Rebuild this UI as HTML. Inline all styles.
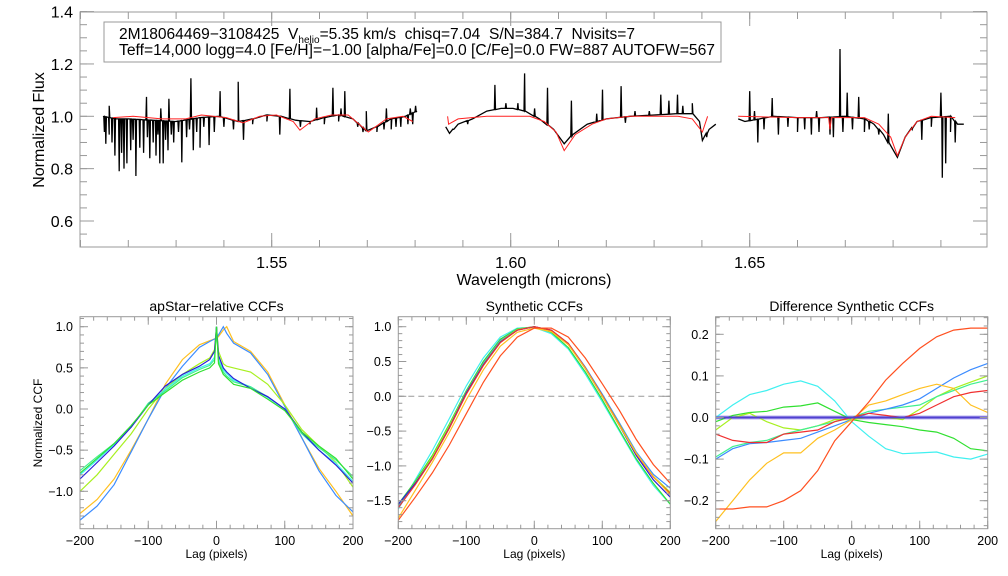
<!DOCTYPE html>
<html><head><meta charset="utf-8"><style>
html,body{margin:0;padding:0;background:#fff;}
svg{display:block;font-family:"Liberation Sans",sans-serif;}
text{white-space:pre;}
</style></head><body>
<svg id="fig" width="1008" height="576" viewBox="0 0 1008 576" xmlns="http://www.w3.org/2000/svg">
<rect width="1008" height="576" fill="#fff"/>
<g>
<rect x="104" y="22" width="617" height="40" fill="none" stroke="#999" stroke-width="1"/>
<text x="119" y="39" font-size="15.5" fill="#000" textLength="516" lengthAdjust="spacingAndGlyphs">2M18064469−3108425  V<tspan font-size="10" dy="4">helio</tspan><tspan dy="-4">=5.35 km/s  chisq=7.04  S/N=384.7  Nvisits=7</tspan></text>
<text x="119" y="55" font-size="15.5" fill="#000" textLength="596" lengthAdjust="spacingAndGlyphs">Teff=14,000 logg=4.0 [Fe/H]=−1.00 [alpha/Fe]=0.0 [C/Fe]=0.0 FW=887 AUTOFW=567</text>
</g>
</svg>
<script>
// ---------- Spectrum data (wavelength microns, flux) ----------
const seg1Cont = [[1.5147,1.00],[1.5175,0.99],[1.52,0.99],[1.525,0.985],[1.53,0.98],[1.535,0.995],[1.539,1.0],[1.543,0.98],[1.546,0.99],[1.549,1.005],[1.552,1.0],[1.555,0.985],[1.558,0.98],[1.561,0.995],[1.564,1.005],[1.567,0.99],[1.5698,0.945],[1.572,0.96],[1.575,0.99],[1.578,1.0],[1.5804,1.02]];
const seg1Lines = [[1.5238,1.074],[1.5285,1.067],[1.5331,1.145],[1.5392,1.096],[1.5430,1.132],[1.5538,1.105],[1.5594,1.033],[1.5628,1.109],[1.5653,1.096],[1.5698,1.02],[1.5801,1.04],
 [1.5153,0.895],[1.5160,0.93],[1.5172,0.85],[1.5181,0.79],[1.5191,0.80],[1.5197,0.82],[1.5205,0.87],[1.5216,0.772],[1.5224,0.88],[1.5232,0.86],[1.5245,0.84],[1.5258,0.85],[1.5266,0.82],[1.5273,0.82],[1.5283,0.87],[1.5295,0.90],[1.5312,0.824],[1.5322,0.92],[1.5336,0.87],[1.5350,0.88],[1.5369,0.89],[1.5380,0.94],[1.5441,0.91],[1.5517,0.93],[1.5691,0.94],[1.5720,0.94],[1.5750,0.95],[1.5770,0.96],
 [1.5150,0.94],[1.5166,0.90],[1.5186,0.86],[1.5210,0.91],[1.5240,0.92],[1.5252,0.90],[1.5262,0.93],[1.5278,0.91],[1.5290,0.93],[1.5305,0.94],[1.5328,0.95],[1.5343,0.94],[1.5358,0.96],[1.5400,0.96],[1.5420,0.95],[1.5460,0.97],[1.5490,0.98],[1.5560,0.96],[1.5580,0.97],[1.5610,0.97],[1.5640,0.98],[1.5680,0.96],[1.5735,0.95],[1.5760,0.96],[1.5785,0.97],[1.5795,0.97],[1.5160,1.04],[1.5268,1.03],[1.5645,1.03],[1.5740,1.03],[1.5790,1.03]];
const seg2Cont = [[1.5864,0.96],[1.5872,0.935],[1.589,0.97],[1.592,0.99],[1.595,1.02],[1.598,1.03],[1.6005,1.03],[1.603,1.02],[1.606,0.99],[1.609,0.95],[1.6112,0.895],[1.613,0.93],[1.616,0.97],[1.62,0.99],[1.625,1.0],[1.63,1.005],[1.635,1.01],[1.638,1.01],[1.6395,0.98],[1.6401,0.908],[1.6415,0.95],[1.6429,0.97]];
const seg2Lines = [[1.5967,1.12],[1.6029,1.164],[1.6077,1.109],[1.6127,1.06],[1.6192,1.102],[1.6231,1.115],[1.6314,1.083],[1.6331,1.06],[1.6349,1.083],[1.6240,0.975],[1.6380,1.05],
 [1.5880,0.95],[1.5910,0.97],[1.5990,1.05],[1.6015,1.05],[1.6050,1.03],[1.6180,1.01],[1.6260,1.02],[1.6290,1.02],[1.6360,1.04],[1.6410,0.92]];
const seg3Cont = [[1.6476,0.99],[1.649,0.98],[1.655,1.0],[1.66,0.995],[1.665,0.995],[1.67,1.0],[1.674,0.99],[1.676,0.97],[1.678,0.93],[1.6809,0.843],[1.6825,0.92],[1.685,0.98],[1.688,0.995],[1.692,1.0],[1.6935,0.97],[1.6948,0.97]];
const seg3Lines = [[1.65,1.096],[1.6547,1.07],[1.6689,1.257],[1.6704,1.09],[1.6728,1.074],[1.6900,1.09],[1.6517,0.90],[1.6560,0.93],[1.6600,0.94],[1.6629,0.93],[1.6668,0.93],[1.6675,0.92],[1.6740,0.94],[1.6770,0.93],[1.6860,0.91],[1.6903,0.765],[1.6910,0.82],[1.6930,0.90],
 [1.6530,0.95],[1.6580,0.96],[1.6615,0.95],[1.6645,0.94],[1.6695,0.94],[1.6715,0.95],[1.6750,0.95],[1.6840,0.95],[1.6880,0.96],[1.6920,0.94],[1.6510,1.02],[1.6640,1.02],[1.6790,1.01]];
const model1 = [[1.5168,0.995],[1.521,1.0],[1.527,0.99],[1.532,0.99],[1.5353,1.005],[1.5405,0.995],[1.544,0.975],[1.5475,1.0],[1.551,1.005],[1.5545,0.98],[1.5559,0.947],[1.559,0.99],[1.5625,1.005],[1.566,1.005],[1.5702,0.94],[1.574,0.99],[1.5775,1.0],[1.5795,0.98]];
const model2 = [[1.5868,1.0],[1.5870,0.97],[1.589,0.99],[1.595,1.0],[1.604,1.0],[1.607,0.98],[1.6095,0.94],[1.6112,0.869],[1.6135,0.93],[1.617,0.97],[1.62,0.99],[1.625,1.0],[1.635,1.0],[1.638,0.99],[1.6401,0.94],[1.6412,1.0]];
const model3 = [[1.6476,1.0],[1.66,0.995],[1.6665,0.995],[1.6668,0.95],[1.6671,0.995],[1.674,0.995],[1.677,0.97],[1.6795,0.92],[1.6809,0.85],[1.6825,0.92],[1.685,0.98],[1.688,1.0],[1.693,0.995]];

// ---------- CCF data ----------
const lags = [-200,-175,-150,-125,-100,-75,-50,-25,0,25,50,75,100,125,150,175,200];
const p1Lags = [-200,-175,-150,-125,-100,-75,-50,-25,-10,-3,0,3,10,15,25,50,75,100,125,150,175,200];
const p1Orange  = [-1.27,-1.1,-0.85,-0.5,-0.12,0.3,0.6,0.78,0.83,0.85,0.86,0.88,0.96,1.0,0.82,0.7,0.45,0.05,-0.35,-0.72,-1.0,-1.3];
const p1LtBlue  = [-1.35,-1.18,-0.92,-0.52,-0.12,0.25,0.52,0.75,0.82,0.85,0.86,0.9,1.0,0.92,0.8,0.68,0.42,0.03,-0.35,-0.75,-1.05,-1.25];
const p1DkBlue  = [-0.85,-0.65,-0.45,-0.22,0.05,0.28,0.42,0.52,0.6,0.7,1.0,0.65,0.5,0.45,0.37,0.25,0.15,0.0,-0.28,-0.5,-0.68,-0.9];
const p1YGreen  = [-1.0,-0.8,-0.55,-0.3,0.0,0.25,0.42,0.55,0.62,0.72,1.0,0.7,0.55,0.52,0.5,0.45,0.3,0.05,-0.25,-0.45,-0.65,-0.95];
const p1Green   = [-0.78,-0.6,-0.42,-0.2,0.05,0.2,0.35,0.45,0.5,0.56,1.0,0.55,0.42,0.38,0.3,0.25,0.12,-0.02,-0.28,-0.45,-0.6,-0.85];
const p1Spring  = [-0.75,-0.58,-0.42,-0.22,0.07,0.22,0.38,0.48,0.53,0.6,1.0,0.58,0.45,0.4,0.33,0.27,0.15,0.0,-0.3,-0.47,-0.62,-0.82];
const p1Cyan    = [-0.8,-0.62,-0.43,-0.22,0.06,0.24,0.4,0.5,0.55,0.63,1.0,0.6,0.48,0.43,0.35,0.27,0.14,0.0,-0.3,-0.5,-0.66,-0.88];

const p2Base   = [-1.55,-1.25,-0.9,-0.45,0.05,0.45,0.78,0.95,1.0,0.95,0.75,0.4,0.0,-0.42,-0.85,-1.2,-1.45];
const p2Red    = [-1.78,-1.45,-1.1,-0.7,-0.25,0.2,0.58,0.85,0.98,0.98,0.85,0.55,0.18,-0.2,-0.62,-0.98,-1.25];
const p2Orange = [-1.75,-1.35,-0.95,-0.52,-0.05,0.38,0.72,0.92,0.98,0.93,0.74,0.4,0.0,-0.42,-0.82,-1.15,-1.42];
const p2Cyan   = [-1.62,-1.2,-0.78,-0.32,0.15,0.55,0.85,0.98,0.99,0.9,0.68,0.32,-0.08,-0.5,-0.92,-1.28,-1.55];
const p2Green  = [-1.55,-1.22,-0.85,-0.4,0.08,0.5,0.82,0.97,1.0,0.92,0.7,0.35,-0.05,-0.48,-0.9,-1.25,-1.55];
const p2LtBlue = [-1.58,-1.25,-0.88,-0.43,0.06,0.47,0.8,0.96,1.0,0.95,0.76,0.42,0.03,-0.38,-0.8,-1.12,-1.32];
const p2YGreen = [-1.56,-1.24,-0.87,-0.42,0.06,0.46,0.79,0.96,1.0,0.94,0.75,0.4,0.01,-0.4,-0.82,-1.15,-1.38];
const p2Red2   = [-1.6,-1.27,-0.9,-0.46,0.03,0.44,0.77,0.95,1.0,0.95,0.76,0.41,0.01,-0.41,-0.83,-1.16,-1.4];

const p3Red2   = [-0.22,-0.22,-0.215,-0.215,-0.2,-0.176,-0.128,-0.056,-0.01,0.037,0.09,0.13,0.166,0.194,0.21,0.215,0.215];
const p3Orange = [-0.25,-0.2,-0.15,-0.11,-0.085,-0.085,-0.05,-0.03,-0.005,0.03,0.04,0.055,0.07,0.08,0.07,0.03,0.012];
const p3LtBlue = [-0.1,-0.075,-0.063,-0.06,-0.055,-0.05,-0.035,-0.02,-0.005,0.01,0.02,0.03,0.045,0.07,0.095,0.115,0.13];
const p3Cyan   = [0.0,0.03,0.055,0.065,0.08,0.088,0.075,0.04,-0.01,-0.045,-0.075,-0.087,-0.085,-0.083,-0.095,-0.1,-0.088];
const p3Green  = [-0.01,0.005,0.012,0.015,0.025,0.028,0.035,0.015,-0.005,-0.012,-0.017,-0.022,-0.03,-0.035,-0.05,-0.075,-0.08];
const p3YGreen = [-0.03,0.0,0.01,-0.01,-0.025,-0.03,-0.02,-0.005,-0.005,0.0,0.0,-0.005,0.02,0.05,0.07,0.085,0.1];
const p3Spring = [-0.095,-0.07,-0.06,-0.055,-0.04,-0.03,-0.02,-0.01,0.0,0.015,0.02,0.025,0.03,0.05,0.065,0.08,0.09];
const p3Red    = [-0.04,-0.055,-0.06,-0.06,-0.04,-0.035,-0.03,-0.01,0.0,0.01,0.005,0.0,0.01,0.03,0.05,0.06,0.065];
const p3Zero   = [0,0,0,0,0,0,0,0,0,0,0,0,0,0,0,0,0];

const topXTicks = [1.55,1.60,1.65];
const topYTicks = [0.6,0.8,1.0,1.2,1.4];
const ccfXTicks = [-200,-100,0,100,200];
const p1YTicks = [-1.0,-0.5,0.0,0.5,1.0];
const p2YTicks = [-1.5,-1.0,-0.5,0.0,0.5,1.0];
const p3YTicks = [-0.2,-0.1,0.0,0.1,0.2];

const NS = "http://www.w3.org/2000/svg";
const svg = document.getElementById('fig');
function mk(tag, attrs, parent){ const e=document.createElementNS(NS,tag); for(const k in attrs) e.setAttribute(k,attrs[k]); (parent||svg).appendChild(e); return e; }
function lin(d0,d1,r0,r1){ return v => r0 + (v-d0)/(d1-d0)*(r1-r0); }
const AX = '#999';

function frame(g, x0,y0,x1,y1){ mk('rect',{x:x0,y:y0,width:x1-x0,height:y1-y0,fill:'none',stroke:AX,'stroke-width':1},g); }
function ticksX(g, sx, y0, y1, vals, len){ vals.forEach(v=>{ const x=sx(v); mk('line',{x1:x,x2:x,y1:y1,y2:y1-len,stroke:AX},g); mk('line',{x1:x,x2:x,y1:y0,y2:y0+len,stroke:AX},g); }); }
function ticksY(g, sy, x0, x1, vals, len){ vals.forEach(v=>{ const y=sy(v); mk('line',{x1:x0,x2:x0+len,y1:y,y2:y,stroke:AX},g); mk('line',{x1:x1,x2:x1-len,y1:y,y2:y,stroke:AX},g); }); }
function range(a,b,s){ const r=[]; for(let v=a; v<=b+1e-9; v+=s) r.push(+v.toFixed(6)); return r; }
function fmt(v,d){ return (v<0?'−':'')+Math.abs(v).toFixed(d); }

// ---------- Top spectrum panel ----------
const T = {x0:80,x1:987,y0:12,y1:247};
const sxT = lin(1.55,1.65,271.7,749.7);
const syT = lin(1.0,0.6,116.3,221);
const gTop = mk('g',{});


frame(gTop,T.x0,T.y0,T.x1,T.y1);
ticksX(gTop,sxT,T.y0,T.y1,range(1.51,1.69,0.01),7);
ticksX(gTop,sxT,T.y0,T.y1,topXTicks,14);
ticksY(gTop,syT,T.x0,T.x1,range(0.55,1.4,0.05),7);
ticksY(gTop,syT,T.x0,T.x1,topYTicks,14);
topXTicks.forEach(v=>{ const t=mk('text',{x:sxT(v),y:268,'font-size':16,'text-anchor':'middle'},gTop); t.textContent=v.toFixed(2);
    });
topYTicks.forEach(v=>{ const t=mk('text',{x:73,y:syT(v)+6,'font-size':16,'text-anchor':'end'},gTop); t.textContent=v.toFixed(1);
    });
let tt=mk('text',{x:534,y:285,'font-size':16,'text-anchor':'middle'},gTop); tt.textContent='Wavelength (microns)';
 
tt=mk('text',{x:0,y:0,'font-size':16,'text-anchor':'middle',transform:'translate(44,130) rotate(-90)'},gTop); tt.textContent='Normalized Flux';
 

function specPts(cont, lines){
  const pts = cont.map(p=>[p[0],p[1]]);
  lines.forEach(l=>{
    const w=l[0]; let i=0; while(i<pts.length-1 && pts[i+1][0]<w) i++;
    const a=pts[i], b=pts[Math.min(i+1,pts.length-1)];
    const c = b[0]===a[0]?a[1]:a[1]+(b[1]-a[1])*(w-a[0])/(b[0]-a[0]);
    const d=0.00012;
    pts.push([w-d,c],[w,l[1]],[w+d,c]);
  });
  pts.sort((p,q)=>p[0]-q[0]);
  return pts;
}
function pathT(pts){ return pts.map((p,i)=>(i?'L':'M')+sxT(p[0]).toFixed(1)+','+syT(p[1]).toFixed(1)).join(''); }
[[seg1Cont,seg1Lines,'spectrum-segment-1'],[seg2Cont,seg2Lines,'spectrum-segment-2'],[seg3Cont,seg3Lines,'spectrum-segment-3']].forEach(s=>{
  const p=mk('path',{d:pathT(specPts(s[0],s[1])),fill:'none',stroke:'#000','stroke-width':1.3},gTop);
  
  
});
[[model1,'model-segment-1'],[model2,'model-segment-2'],[model3,'model-segment-3']].forEach(s=>{
  const p=mk('path',{d:pathT(s[0]),fill:'none',stroke:'#ff2020','stroke-width':1},gTop);
  
  
});

// ---------- CCF panels ----------
function ccfPanel(name, title, x0, x1, y0v, sy, ymin, ymax, yticks, minorStep, series, xs, extra){
  const y0=316.7, y1=528.7;
  const sx = lin(-200,200,x0,x1);
  const g = mk('g',{});
  
  
  if(extra) extra(g,sx,sy);
  series.forEach(s=>{
    const xsArr = s.xs||xs;
    const d = s.v.map((v,i)=>(i?'L':'M')+sx(xsArr[i]).toFixed(1)+','+sy(v).toFixed(1)).join('');
    const p=mk('path',{d:d,fill:'none',stroke:s.c,'stroke-width':s.w||1.2},g);
    
    
  });
  frame(g,x0,y0,x1,y1);
  ticksX(g,sx,y0,y1,range(-200,200,20),4);
  ticksX(g,sx,y0,y1,ccfXTicks,8);
  const mv=[]; for(let v=Math.ceil(ymin/minorStep)*minorStep; v<=ymax; v+=minorStep) mv.push(v);
  ticksY(g,sy,x0,x1,mv,4);
  ticksY(g,sy,x0,x1,yticks,8);
  ccfXTicks.forEach(v=>{ const t=mk('text',{x:sx(v),y:545,'font-size':12.5,'text-anchor':'middle'},g); t.textContent=fmt(v,0);
      });
  yticks.forEach(v=>{ const t=mk('text',{x:x0-7,y:sy(v)+4.5,'font-size':12.5,'text-anchor':'end'},g); t.textContent=fmt(v,1);
      });
  let t=mk('text',{x:(x0+x1)/2,y:558,'font-size':12,'text-anchor':'middle'},g); t.textContent='Lag (pixels)';
   
  t=mk('text',{x:(x0+x1)/2,y:311,'font-size':14,'text-anchor':'middle'},g); t.textContent=title;
   
  return g;
}
const C = {dk:'#2a1ed8', lb:'#3c8cff', or:'#ffc020', yg:'#a8f020', gr:'#30e030', sp:'#40f090', cy:'#40f0f0', rd:'#f03030', ro:'#ff5020'};

const sy1 = lin(0,1,409,326.7);
const g1 = ccfPanel('apstar-ccf-panel','apStar−relative CCFs',80,353,0,sy1,-1.45,1.12,p1YTicks,0.1,[
  {v:p1Orange,c:C.or,n:'ccf-orange'},{v:p1LtBlue,c:C.lb,n:'ccf-lightblue'},{v:p1YGreen,c:C.yg,n:'ccf-yellowgreen'},
  {v:p1Cyan,c:C.cy,n:'ccf-cyan'},{v:p1Spring,c:C.sp,n:'ccf-springgreen'},{v:p1DkBlue,c:C.dk,n:'ccf-darkblue'},{v:p1Green,c:C.gr,n:'ccf-green'}
], p1Lags);
let yl=mk('text',{x:0,y:0,'font-size':12,'text-anchor':'middle',transform:'translate(42,423) rotate(-90)'},g1); yl.textContent='Normalized CCF';
 

const sy2 = lin(0,1,396.3,326.7);
ccfPanel('synthetic-ccf-panel','Synthetic CCFs',398.3,670.3,0,sy2,-1.9,1.14,p2YTicks,0.1,[
  {v:p2Cyan,c:C.cy,n:'synth-cyan'},{v:p2Green,c:C.gr,n:'synth-green'},{v:p2LtBlue,c:C.lb,n:'synth-lightblue'},{v:p2YGreen,c:C.yg,n:'synth-yellowgreen'},
  {v:p2Base,c:C.dk,n:'synth-darkblue'},{v:p2Red2,c:C.rd,n:'synth-red'},{v:p2Orange,c:C.or,n:'synth-orange'},{v:p2Red,c:C.ro,n:'synth-orangered'}
], lags, (g,sx,sy)=>{ const l=mk('line',{x1:398.3,x2:670.3,y1:sy(0),y2:sy(0),stroke:'#999','stroke-dasharray':'6,4'},g);
    });

const sy3 = lin(0,0.1,417.5,375.9);
ccfPanel('difference-ccf-panel','Difference Synthetic CCFs',715.7,987.7,0,sy3,-0.267,0.245,p3YTicks,0.02,[
  {v:p3Cyan,c:C.cy,n:'diff-cyan'},{v:p3Green,c:C.gr,n:'diff-green'},{v:p3YGreen,c:C.yg,n:'diff-yellowgreen'},{v:p3Spring,c:C.sp,n:'diff-springgreen'},
  {v:p3LtBlue,c:C.lb,n:'diff-lightblue'},{v:p3Orange,c:C.or,n:'diff-orange'},{v:p3Red,c:C.rd,n:'diff-red'},{v:p3Red2,c:C.ro,n:'diff-orangered'},
  {v:p3Zero,c:'#5040d0',n:'diff-zero-baseline',w:2}
], lags, (g,sx,sy)=>{ const l=mk('line',{x1:715.7,x2:987.7,y1:sy(0),y2:sy(0),stroke:'#b8b0f0','stroke-width':4},g);
    });
</script>
</body></html>
